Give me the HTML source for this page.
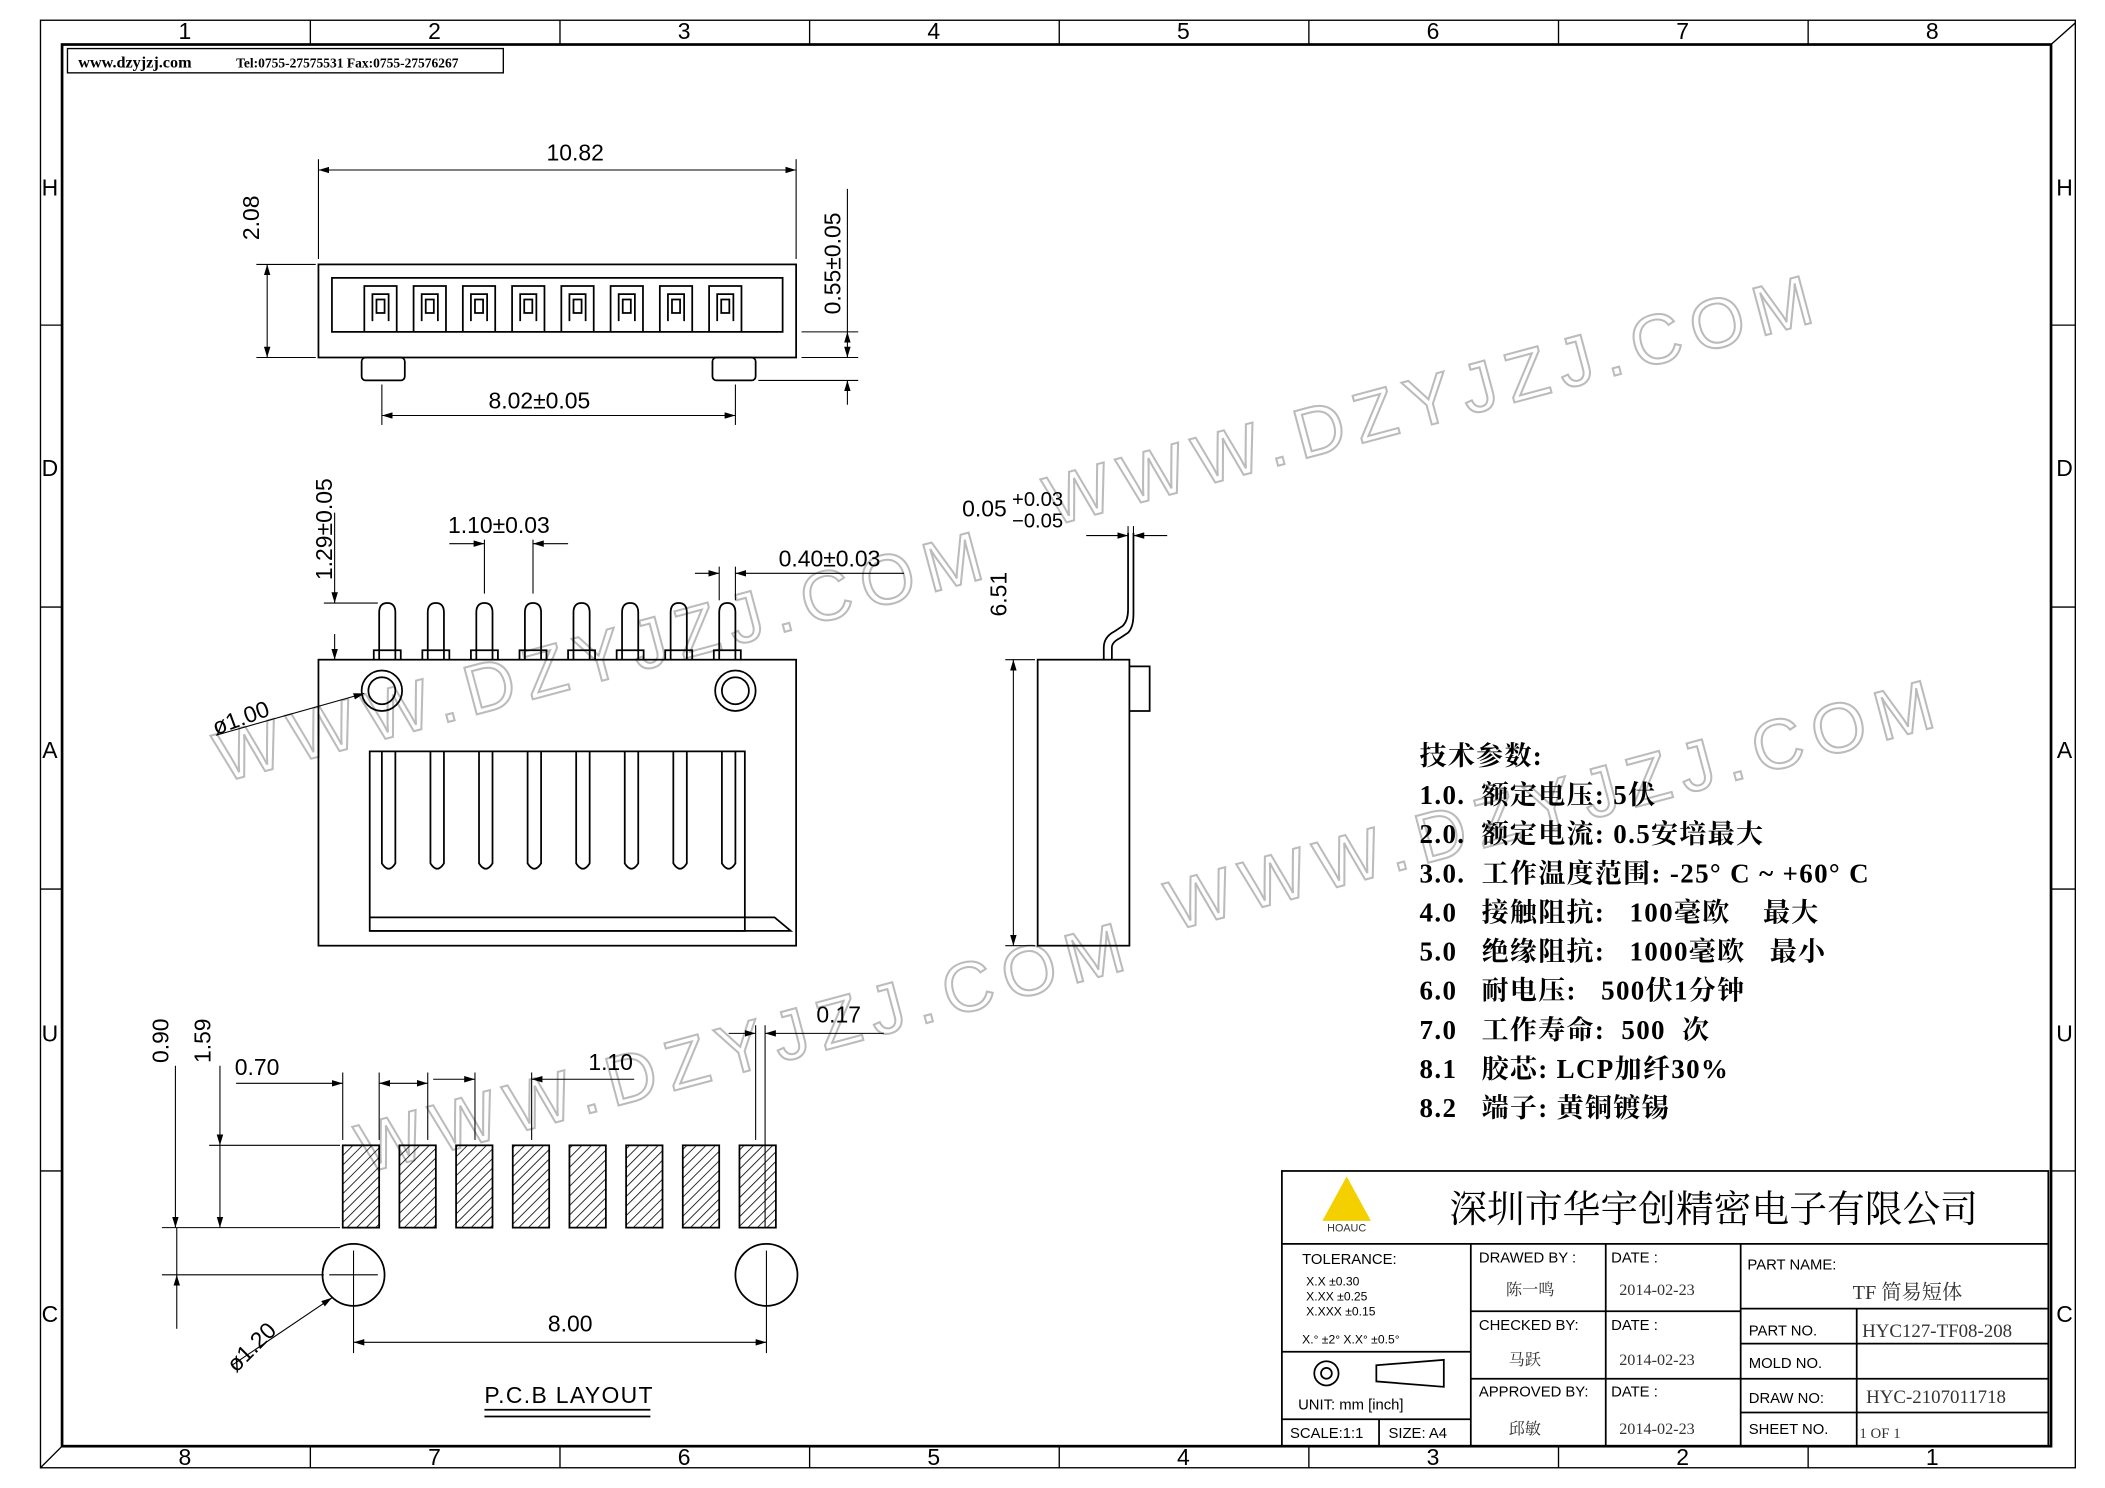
<!DOCTYPE html>
<html><head><meta charset="utf-8"><style>
html,body{margin:0;padding:0;background:#fff}
svg{display:block}
text{font-family:"Liberation Sans","Noto Sans CJK SC",sans-serif}
.s text, text.s{font-family:"Liberation Serif","Noto Serif CJK SC",serif}
</style></head><body>
<svg width="2105" height="1488" viewBox="0 0 1560 1103" preserveAspectRatio="none" xmlns="http://www.w3.org/2000/svg">
<defs>
<pattern id="h" width="5" height="5" patternUnits="userSpaceOnUse" patternTransform="rotate(45)"><line x1="0" y1="0" x2="0" y2="5" stroke="#000" stroke-width="1.2"/></pattern>
<marker id="a" viewBox="0 0 10 6" refX="10" refY="3" markerWidth="10" markerHeight="6" orient="auto-start-reverse"><path d="M0,0L10,3L0,6z" fill="#000"/></marker>
</defs>
<rect width="1560" height="1103" fill="#fff"/>
<rect x="30" y="15" width="1508" height="1073" fill="none" stroke="#000" stroke-width="1"/>
<rect x="46" y="33" width="1474" height="1039" fill="none" stroke="#000" stroke-width="2"/>
<g stroke="#000" stroke-width="1">
<line x1="230" y1="15" x2="230" y2="33"/><line x1="415" y1="15" x2="415" y2="33"/><line x1="600" y1="15" x2="600" y2="33"/><line x1="785" y1="15" x2="785" y2="33"/><line x1="970" y1="15" x2="970" y2="33"/><line x1="1155" y1="15" x2="1155" y2="33"/><line x1="1340" y1="15" x2="1340" y2="33"/>
<line x1="230" y1="1072" x2="230" y2="1088"/><line x1="415" y1="1072" x2="415" y2="1088"/><line x1="600" y1="1072" x2="600" y2="1088"/><line x1="785" y1="1072" x2="785" y2="1088"/><line x1="970" y1="1072" x2="970" y2="1088"/><line x1="1155" y1="1072" x2="1155" y2="1088"/><line x1="1340" y1="1072" x2="1340" y2="1088"/>
<line x1="30" y1="241" x2="46" y2="241"/><line x1="30" y1="450" x2="46" y2="450"/><line x1="30" y1="659" x2="46" y2="659"/><line x1="30" y1="868" x2="46" y2="868"/>
<line x1="1520" y1="241" x2="1538" y2="241"/><line x1="1520" y1="450" x2="1538" y2="450"/><line x1="1520" y1="659" x2="1538" y2="659"/><line x1="1520" y1="868" x2="1538" y2="868"/>
</g>
<g font-size="17" text-anchor="middle">
<text x="137" y="29">1</text><text x="322" y="29">2</text><text x="507" y="29">3</text><text x="692" y="29">4</text><text x="877" y="29">5</text><text x="1062" y="29">6</text><text x="1247" y="29">7</text><text x="1432" y="29">8</text>
<text x="137" y="1086">8</text><text x="322" y="1086">7</text><text x="507" y="1086">6</text><text x="692" y="1086">5</text><text x="877" y="1086">4</text><text x="1062" y="1086">3</text><text x="1247" y="1086">2</text><text x="1432" y="1086">1</text>
<text x="37" y="145">H</text><text x="37" y="353">D</text><text x="37" y="562">A</text><text x="37" y="772">U</text><text x="37" y="980">C</text>
<text x="1530" y="145">H</text><text x="1530" y="353">D</text><text x="1530" y="562">A</text><text x="1530" y="772">U</text><text x="1530" y="980">C</text>
</g>
<path d="M1520,33L1538,17" stroke="#000"/><path d="M30,1088L46,1072" stroke="#000"/>
<rect x="50" y="36" width="323" height="18" fill="none" stroke="#000"/>
<text x="58" y="50" class="s" font-size="12" font-weight="bold">www.dzyjzj.com</text>
<text x="175" y="50" class="s" font-size="10" font-weight="bold">Tel:0755-27575531  Fax:0755-27576267</text>

<g fill="none" stroke="#bbb" stroke-width="1.5" font-size="52" font-family="Liberation Sans,sans-serif" letter-spacing="8">
<text transform="translate(780,390) rotate(-15)">WWW.DZYJZJ.COM</text>
<text transform="translate(165,580) rotate(-15)">WWW.DZYJZJ.COM</text>
<text transform="translate(870,690) rotate(-15)">WWW.DZYJZJ.COM</text>
<text transform="translate(270,870) rotate(-15)">WWW.DZYJZJ.COM</text>
</g>

<g stroke="#000" fill="none" stroke-width="1.3">
<rect x="236" y="196" width="354" height="69"/>
<path d="M246,206H580V246H246Z"/>
<rect x="268" y="265" width="32" height="17" rx="3"/><rect x="528" y="265" width="32" height="17" rx="3"/>
<g id="tp">
<path d="M270,246V212H294V246"/><path d="M276,238V218H288V238"/><rect x="279" y="222" width="6" height="10"/>
</g>
<use href="#tp" x="36.5"/><use href="#tp" x="73"/><use href="#tp" x="109.5"/><use href="#tp" x="146"/><use href="#tp" x="182.5"/><use href="#tp" x="219"/><use href="#tp" x="255.5"/>
<g stroke-width="0.8">
<line x1="236" y1="118" x2="236" y2="192"/><line x1="590" y1="118" x2="590" y2="192"/>
<line x1="236" y1="126" x2="590" y2="126" marker-start="url(#a)" marker-end="url(#a)"/>
<line x1="190" y1="196" x2="234" y2="196"/><line x1="190" y1="265" x2="234" y2="265"/>
<line x1="198" y1="196" x2="198" y2="265" marker-start="url(#a)" marker-end="url(#a)"/>
<line x1="594" y1="246" x2="636" y2="246"/><line x1="594" y1="265" x2="636" y2="265"/><line x1="562" y1="282" x2="636" y2="282"/>
<line x1="628" y1="140" x2="628" y2="246" /><line x1="628" y1="246" x2="628" y2="265" marker-start="url(#a)" marker-end="url(#a)"/>
<line x1="628" y1="282" x2="628" y2="300" marker-start="url(#a)"/>
<line x1="283" y1="285" x2="283" y2="315"/><line x1="545" y1="285" x2="545" y2="315"/>
<line x1="283" y1="308" x2="545" y2="308" marker-start="url(#a)" marker-end="url(#a)"/>
</g>
<rect x="236" y="489" width="354" height="212"/>
<g id="mp"><path d="M281,489V454Q281,447 287,447Q293,447 293,454V489"/><path d="M277,489V482H297V489"/></g>
<use href="#mp" x="36"/><use href="#mp" x="72"/><use href="#mp" x="108"/><use href="#mp" x="144"/><use href="#mp" x="180"/><use href="#mp" x="216"/><use href="#mp" x="252"/>
<circle cx="283" cy="512" r="15"/><circle cx="283" cy="512" r="10"/>
<circle cx="545" cy="512" r="15"/><circle cx="545" cy="512" r="10"/>
<path d="M274,557H552V690H274Z"/><path d="M274,690H586L574,680H274"/>
<g id="fg"><path d="M283,557V640Q288,648 293,640V557"/></g>
<use href="#fg" x="36"/><use href="#fg" x="72"/><use href="#fg" x="108"/><use href="#fg" x="144"/><use href="#fg" x="180"/><use href="#fg" x="216"/><use href="#fg" x="252"/>
<g stroke-width="0.8">
<line x1="240" y1="447" x2="280" y2="447"/><line x1="248" y1="380" x2="248" y2="447" marker-end="url(#a)"/><line x1="248" y1="489" x2="248" y2="470" marker-start="url(#a)"/>
<line x1="359" y1="400" x2="359" y2="440"/><line x1="395" y1="400" x2="395" y2="440"/>
<line x1="333" y1="403" x2="359" y2="403" marker-end="url(#a)"/><line x1="421" y1="403" x2="395" y2="403" marker-end="url(#a)"/>
<line x1="533" y1="420" x2="533" y2="445"/><line x1="545" y1="420" x2="545" y2="445"/>
<line x1="515" y1="425" x2="533" y2="425" marker-end="url(#a)"/><line x1="670" y1="425" x2="545" y2="425" marker-end="url(#a)"/>
<line x1="270" y1="514" x2="160" y2="545" marker-start="url(#a)"/>
</g>
<rect x="769" y="489" width="68" height="212"/>
<path d="M837,494H852V527H837"/>
<path d="M818,489V480Q818,472 826,468L832,464Q836,460 836,452V395"/>
<path d="M824,489V480Q824,476 830,473L836,469Q840,465 840,455V395"/>
<g stroke-width="0.8">
<line x1="745" y1="489" x2="767" y2="489"/><line x1="745" y1="701" x2="767" y2="701"/>
<line x1="751" y1="489" x2="751" y2="701" marker-start="url(#a)" marker-end="url(#a)"/>
<line x1="836" y1="390" x2="836" y2="445"/><line x1="840" y1="390" x2="840" y2="445"/>
<line x1="805" y1="397" x2="836" y2="397" marker-end="url(#a)"/><line x1="865" y1="397" x2="840" y2="397" marker-end="url(#a)"/>
</g>
<g fill="url(#h)">
<rect x="254" y="849" width="27" height="61"/><rect x="296" y="849" width="27" height="61"/><rect x="338" y="849" width="27" height="61"/><rect x="380" y="849" width="27" height="61"/><rect x="422" y="849" width="27" height="61"/><rect x="464" y="849" width="27" height="61"/><rect x="506" y="849" width="27" height="61"/><rect x="548" y="849" width="27" height="61"/>
</g>
<circle cx="262" cy="945" r="23"/><circle cx="568" cy="945" r="23"/>
<g stroke-width="0.8">
<line x1="244" y1="945" x2="280" y2="945"/><line x1="262" y1="927" x2="262" y2="1003"/>
<line x1="568" y1="927" x2="568" y2="1003"/>
<line x1="120" y1="910" x2="252" y2="910"/><line x1="155" y1="849" x2="252" y2="849"/>
<line x1="130" y1="790" x2="130" y2="910" marker-end="url(#a)"/>
<line x1="163" y1="790" x2="163" y2="849" marker-end="url(#a)"/><line x1="163" y1="849" x2="163" y2="910" marker-end="url(#a)"/>
<line x1="254" y1="795" x2="254" y2="845"/><line x1="281" y1="795" x2="281" y2="845"/><line x1="317" y1="795" x2="317" y2="845"/>
<line x1="175" y1="803" x2="254" y2="803" marker-end="url(#a)"/>
<line x1="281" y1="803" x2="317" y2="803" marker-start="url(#a)" marker-end="url(#a)"/>
<line x1="352" y1="795" x2="352" y2="845"/><line x1="394" y1="795" x2="394" y2="845"/>
<line x1="321" y1="800" x2="352" y2="800" marker-end="url(#a)"/><line x1="470" y1="800" x2="394" y2="800" marker-end="url(#a)"/>
<line x1="560" y1="760" x2="560" y2="845"/><line x1="567" y1="760" x2="567" y2="910"/>
<line x1="540" y1="766" x2="560" y2="766" marker-end="url(#a)"/><line x1="655" y1="766" x2="567" y2="766" marker-end="url(#a)"/>
<line x1="120" y1="945" x2="240" y2="945"/><line x1="131" y1="910" x2="131" y2="945" />
<line x1="131" y1="985" x2="131" y2="945" marker-end="url(#a)"/>
<line x1="262" y1="995" x2="568" y2="995" marker-start="url(#a)" marker-end="url(#a)"/>
<line x1="246" y1="962" x2="172" y2="1012" marker-start="url(#a)"/>
</g>
<line x1="359" y1="1045" x2="482" y2="1045"/><line x1="359" y1="1050" x2="482" y2="1050"/>
</g>
<g font-size="17" fill="#000">
<text x="405" y="119">10.82</text>
<text transform="translate(192,178) rotate(-90)">2.08</text>
<text transform="translate(623,233) rotate(-90)">0.55±0.05</text>
<text x="362" y="303">8.02±0.05</text>
<text transform="translate(246,430) rotate(-90)">1.29±0.05</text>
<text x="332" y="395">1.10±0.03</text>
<text x="577" y="420">0.40±0.03</text>
<text transform="translate(160,545) rotate(-20)">ø1.00</text>
<text x="713" y="383">0.05</text><text x="750" y="375" font-size="15">+0.03</text><text x="750" y="391" font-size="15">−0.05</text>
<text transform="translate(746,457) rotate(-90)">6.51</text>
<text transform="translate(125,788) rotate(-90)">0.90</text>
<text transform="translate(156,788) rotate(-90)">1.59</text>
<text x="174" y="797">0.70</text>
<text x="436" y="793">1.10</text>
<text x="605" y="758">0.17</text>
<text x="406" y="987">8.00</text>
<text transform="translate(175,1018) rotate(-45)">ø1.20</text>
<text x="359" y="1040" letter-spacing="1">P.C.B LAYOUT</text>
</g>
<g class="s" font-size="20" font-weight="bold" fill="#000" letter-spacing="1">
<text x="1052" y="567">技术参数:</text>
<text x="1052" y="596" xml:space="preserve">1.0.  额定电压: 5伏</text>
<text x="1052" y="625" xml:space="preserve">2.0.  额定电流: 0.5安培最大</text>
<text x="1052" y="654" xml:space="preserve">3.0.  工作温度范围: -25° C ~ +60° C</text>
<text x="1052" y="683" xml:space="preserve">4.0   接触阻抗:   100毫欧    最大</text>
<text x="1052" y="712" xml:space="preserve">5.0   绝缘阻抗:   1000毫欧   最小</text>
<text x="1052" y="741" xml:space="preserve">6.0   耐电压:   500伏1分钟</text>
<text x="1052" y="770" xml:space="preserve">7.0   工作寿命:  500  次</text>
<text x="1052" y="799" xml:space="preserve">8.1   胶芯: LCP加纤30%</text>
<text x="1052" y="828" xml:space="preserve">8.2   端子: 黄铜镀锡</text>
</g>
<g stroke="#000" fill="none" stroke-width="1.3">
<rect x="950" y="868" width="568" height="204"/>
<line x1="950" y1="922" x2="1518" y2="922"/>
<line x1="1090" y1="922" x2="1090" y2="1072"/><line x1="1190" y1="922" x2="1190" y2="1072"/><line x1="1290" y1="922" x2="1290" y2="1072"/><line x1="1376" y1="970" x2="1376" y2="1072"/>
<line x1="1090" y1="972" x2="1290" y2="972"/><line x1="1090" y1="1022" x2="1290" y2="1022"/>
<line x1="1290" y1="970" x2="1518" y2="970"/><line x1="1290" y1="996" x2="1518" y2="996"/><line x1="1290" y1="1022" x2="1518" y2="1022"/><line x1="1290" y1="1047" x2="1518" y2="1047"/>
<line x1="950" y1="1002" x2="1090" y2="1002"/><line x1="950" y1="1052" x2="1090" y2="1052"/><line x1="1022" y1="1052" x2="1022" y2="1072"/>
<circle cx="983" cy="1018" r="9"/><circle cx="983" cy="1018" r="4"/>
<path d="M1020,1012L1070,1008V1028L1020,1024Z"/>
</g>
<path d="M998,872L1016,905H980Z" fill="#f5d000"/>
<text x="998" y="913" font-size="8" text-anchor="middle" fill="#333">HOAUC</text>
<text x="1270" y="906" class="s" font-size="28" text-anchor="middle" fill="#000">深圳市华宇创精密电子有限公司</text>
<g font-size="11" fill="#000">
<text x="965" y="937">TOLERANCE:</text>
<text x="968" y="953" font-size="9">X.X      ±0.30</text>
<text x="968" y="964" font-size="9">X.XX    ±0.25</text>
<text x="968" y="975" font-size="9">X.XXX  ±0.15</text>
<text x="965" y="996" font-size="9">X.° ±2°        X.X° ±0.5°</text>
<text x="962" y="1045">UNIT:  mm  [inch]</text>
<text x="956" y="1066">SCALE:1:1</text><text x="1029" y="1066">SIZE:  A4</text>
<text x="1096" y="936">DRAWED BY :</text><text x="1194" y="936">DATE  :</text>
<text x="1096" y="986">CHECKED BY:</text><text x="1194" y="986">DATE  :</text>
<text x="1096" y="1035">APPROVED BY:</text><text x="1194" y="1035">DATE  :</text>
<text x="1295" y="941">PART NAME:</text>
<text x="1296" y="990">PART NO.</text><text x="1296" y="1014">MOLD NO.</text><text x="1296" y="1040">DRAW NO:</text><text x="1296" y="1063">SHEET NO.</text>
</g>
<g class="s" font-size="12" fill="#333">
<text x="1116" y="960">陈一鸣</text><text x="1200" y="960">2014-02-23</text>
<text x="1118" y="1012">马跃</text><text x="1200" y="1012">2014-02-23</text>
<text x="1118" y="1063">邱敏</text><text x="1200" y="1063">2014-02-23</text>
<text x="1373" y="963" font-size="15">TF 简易短体</text>
<text x="1380" y="991" font-size="14">HYC127-TF08-208</text>
<text x="1383" y="1040" font-size="14">HYC-2107011718</text>
<text x="1378" y="1066" font-size="11">1 OF 1</text>
</g>
</svg>
</body></html>
